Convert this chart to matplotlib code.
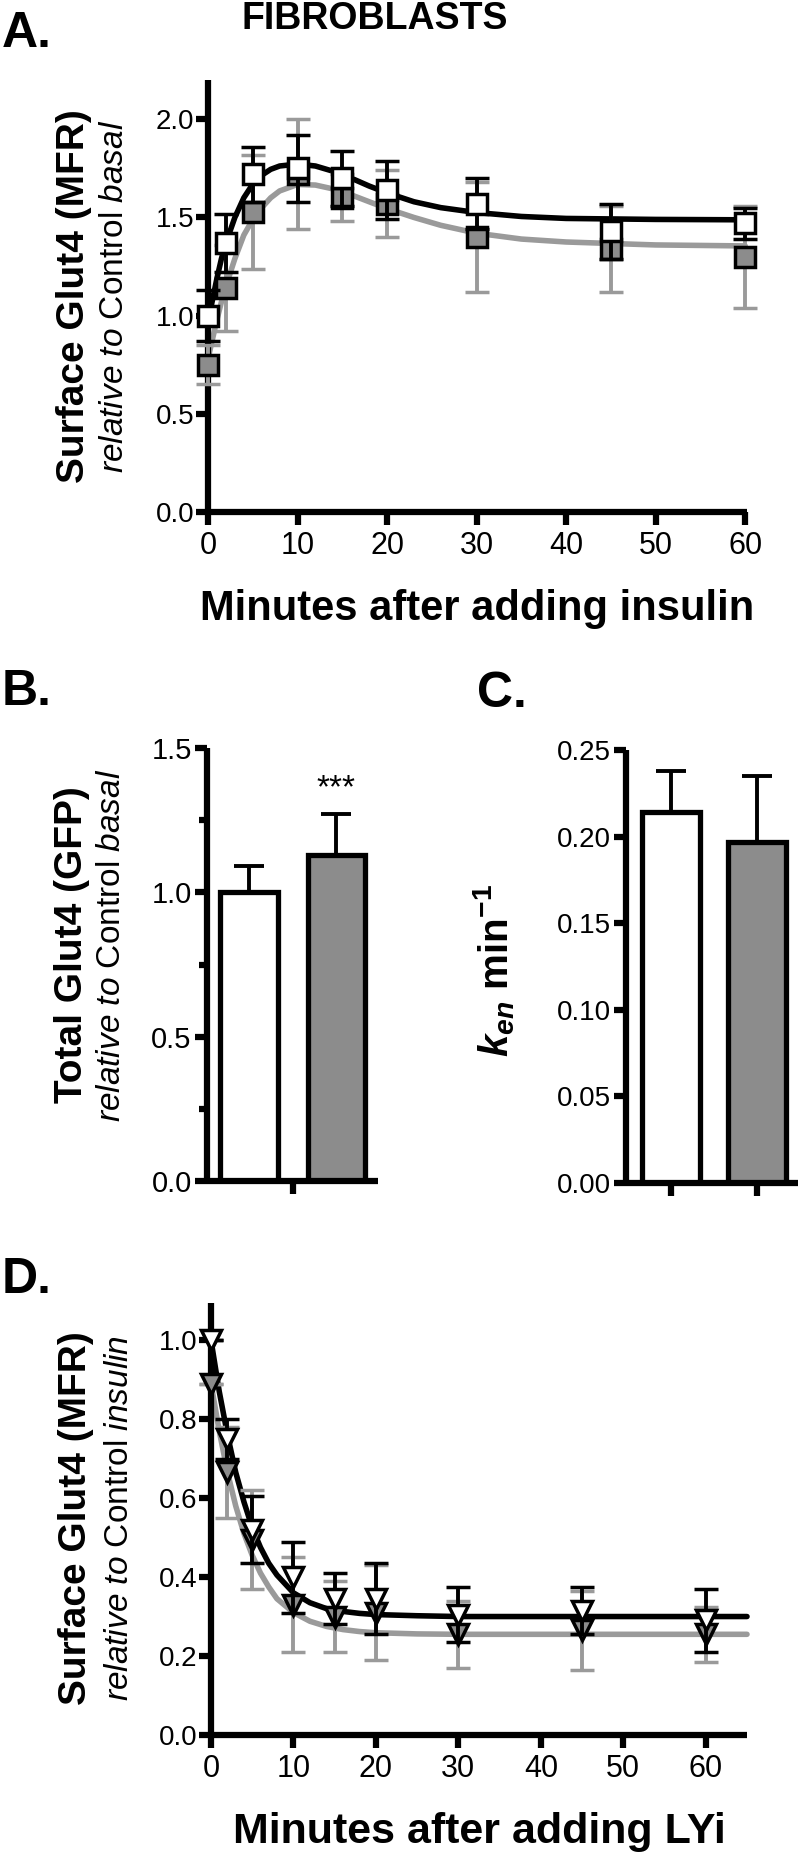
import matplotlib
matplotlib.use("Agg")
import matplotlib.pyplot as plt
import numpy as np

plt.rcParams['font.family'] = ['Liberation Sans', 'DejaVu Sans']
plt.rcParams['mathtext.fontset'] = 'custom'
plt.rcParams['mathtext.rm'] = 'Liberation Sans'
plt.rcParams['mathtext.it'] = 'Liberation Sans:italic'
plt.rcParams['mathtext.bf'] = 'Liberation Sans:bold'
try:
    plt.rcParams['mathtext.bfit'] = 'Liberation Sans:bold:italic'
except KeyError:
    pass

# A: surface Glut4 after insulin
timesA = [0, 2, 5, 10, 15, 20, 30, 45, 60]
ctrlA = [1.00, 1.37, 1.72, 1.75, 1.70, 1.64, 1.57, 1.43, 1.47]
ctrlA_err = [0.13, 0.15, 0.14, 0.17, 0.14, 0.15, 0.13, 0.14, 0.08]
trtA = [0.75, 1.14, 1.53, 1.72, 1.60, 1.57, 1.40, 1.34, 1.30]
trtA_err = [0.10, 0.22, 0.29, 0.28, 0.12, 0.17, 0.28, 0.22, 0.26]
# fitted curves
fitA_t = [0, 0.5, 1, 1.5, 2, 3, 4, 5, 6, 7, 8, 10, 12, 14, 16, 18, 20, 23, 26, 30, 35, 40, 50, 60]
fitA_ctrl = [0.97, 1.08, 1.19, 1.29, 1.37, 1.50, 1.60, 1.67, 1.715, 1.745, 1.762, 1.772, 1.762, 1.735,
             1.70, 1.66, 1.625, 1.58, 1.55, 1.525, 1.505, 1.495, 1.49, 1.488]
fitA_trt = [0.78, 0.88, 0.98, 1.07, 1.15, 1.29, 1.41, 1.49, 1.55, 1.60, 1.635, 1.668, 1.665, 1.645,
            1.615, 1.58, 1.545, 1.50, 1.46, 1.42, 1.39, 1.375, 1.36, 1.355]

# B: total Glut4, C: k_en
totB = [1.00, 1.13]
totB_err = [0.09, 0.14]
kenC = [0.214, 0.197]
kenC_err = [0.024, 0.038]

# D: surface Glut4 after LYi
timesD = [0, 2, 5, 10, 15, 20, 30, 45, 60]
ctrlD = [1.00, 0.75, 0.52, 0.40, 0.345, 0.345, 0.305, 0.315, 0.29]
ctrlD_err = [0.0, 0.05, 0.085, 0.09, 0.065, 0.09, 0.07, 0.06, 0.08]
trtD = [0.89, 0.665, 0.495, 0.33, 0.30, 0.31, 0.255, 0.265, 0.255]
trtD_err = [0.0, 0.115, 0.125, 0.12, 0.09, 0.12, 0.085, 0.10, 0.07]
fitD_t = [0, 1, 2, 3, 4, 5, 6, 7, 8, 10, 12, 14, 16, 18, 20, 25, 30, 40, 65]
fitD_ctrl = [1.0, 0.87, 0.76, 0.665, 0.59, 0.525, 0.475, 0.435, 0.405, 0.36, 0.335, 0.32, 0.313,
             0.308, 0.305, 0.302, 0.30, 0.30, 0.30]
fitD_trt = [0.89, 0.77, 0.665, 0.58, 0.51, 0.455, 0.41, 0.375, 0.345, 0.31, 0.288, 0.275, 0.267,
            0.262, 0.259, 0.256, 0.255, 0.255, 0.255]

GREY = '#8c8c8c'
LGREY = '#9a9a9a'
W, H = 800, 1854

fig = plt.figure(figsize=(W / 100, H / 100), dpi=100)


def box(l, r, t, b):
    return [l / W, 1 - b / H, (r - l) / W, (b - t) / H]


def style(ax, lw=4.5):
    for s in ['top', 'right']:
        ax.spines[s].set_visible(False)
    for s in ['left', 'bottom']:
        ax.spines[s].set_linewidth(lw)
        ax.spines[s].set_capstyle('butt')
    ax.tick_params(width=lw, length=9, direction='out', pad=2)


def ftext(x, y, s, **kw):
    fig.text(x / W, 1 - y / H, s, **kw)


# ---- A ----
axA = fig.add_axes(box(208, 747, 80, 512))
style(axA)
axA.plot(fitA_t, fitA_trt, color=LGREY, lw=4, zorder=2, solid_capstyle='round')
axA.plot(fitA_t, fitA_ctrl, color='black', lw=4, zorder=3, solid_capstyle='round')
axA.errorbar(timesA, trtA, yerr=trtA_err, fmt='s', ms=14.5, mfc=GREY, mec='black', mew=2.5,
             ecolor=LGREY, elinewidth=2.8, capsize=8.5, capthick=2.8, zorder=4)
axA.errorbar(timesA, ctrlA, yerr=ctrlA_err, fmt='s', ms=14.5, mfc='white', mec='black', mew=2.5,
             ecolor='black', elinewidth=2.8, capsize=8.5, capthick=2.8, zorder=5)
axA.set_xlim(0, 60.2)
axA.set_ylim(0, 2.2)
axA.set_xticks(range(0, 61, 10))
axA.set_yticks([0, 0.5, 1.0, 1.5, 2.0])
axA.set_yticklabels(['0.0', '0.5', '1.0', '1.5', '2.0'])
axA.tick_params(axis='y', labelsize=20, pad=1)
axA.tick_params(axis='x', labelsize=22, pad=5)
for c in axA.get_children():
    c.set_clip_on(False)
axA.set_xlabel('Minutes after adding insulin', fontsize=30, fontweight='bold', labelpad=20)

ftext(375, 19, 'FIBROBLASTS', fontsize=27, fontweight='bold', ha='center', va='center')
ftext(2, 34, 'A.', fontsize=36, fontweight='bold', ha='left', va='center')
ftext(74, 296, 'Surface Glut4 (MFR)', fontsize=28, fontweight='bold', rotation=90,
      ha='center', va='center')
ftext(115, 296, r'$\mathit{relative\ to}$ Control $\mathit{basal}$', fontsize=24, rotation=90,
      ha='center', va='center')

# ---- B ----
axB = fig.add_axes(box(207, 378, 748, 1181))
style(axB)
axB.bar([0, 1], totB, width=0.66, color=['white', GREY], edgecolor='black', linewidth=3.8, zorder=2)
axB.errorbar([0, 1], totB, yerr=[[0, 0], totB_err], fmt='none', ecolor='black', elinewidth=2.8,
             capsize=11, capthick=2.8, zorder=1)
axB.text(1, totB[1] + totB_err[1] + 0.035, '***', ha='center', va='bottom', fontsize=24)
axB.set_xlim(-0.48, 1.475)
axB.set_ylim(0, 1.5)
axB.set_yticks([0, 0.5, 1.0, 1.5])
axB.set_yticklabels(['0.0', '0.5', '1.0', '1.5'])
axB.set_yticks([0.25, 0.75, 1.25], minor=True)
axB.tick_params(axis='y', which='minor', width=4.5, length=5.5)
axB.set_xticks([0.5])
axB.set_xticklabels([''])
axB.tick_params(labelsize=21)
ftext(2, 692, 'B.', fontsize=36, fontweight='bold', ha='left', va='center')
ftext(72, 945, 'Total Glut4 (GFP)', fontsize=28, fontweight='bold', rotation=90,
      ha='center', va='center')
ftext(111, 945, r'$\mathit{relative\ to}$ Control $\mathit{basal}$', fontsize=24, rotation=90,
      ha='center', va='center')

# ---- C ----
axC = fig.add_axes(box(626, 798, 750, 1183))
style(axC)
axC.bar([0, 1], kenC, width=0.68, color=['white', GREY], edgecolor='black', linewidth=3.8, zorder=2)
axC.errorbar([0, 1], kenC, yerr=[[0, 0], kenC_err], fmt='none', ecolor='black', elinewidth=2.8,
             capsize=11, capthick=2.8, zorder=1)
axC.set_xlim(-0.53, 1.485)
axC.set_ylim(0, 0.25)
axC.set_yticks([0, 0.05, 0.10, 0.15, 0.20, 0.25])
axC.set_yticklabels(['0.00', '0.05', '0.10', '0.15', '0.20', '0.25'])
axC.set_xticks([0, 1])
axC.set_xticklabels(['', ''])
axC.tick_params(labelsize=20)
ftext(477, 694, 'C.', fontsize=36, fontweight='bold', ha='left', va='center')
ftext(494, 970, r'$\mathbfit{k_{en}}$ $\mathbf{min^{-1}}$', fontsize=29, rotation=90,
      ha='center', va='center')

# ---- D ----
axD = fig.add_axes(box(211, 747, 1303, 1735))
style(axD)
axD.plot(fitD_t, fitD_trt, color=LGREY, lw=4, zorder=2, solid_capstyle='round')
axD.plot(fitD_t, fitD_ctrl, color='black', lw=4, zorder=3, solid_capstyle='round')
axD.errorbar(timesD, trtD, yerr=trtD_err, fmt='v', ms=15, mfc=GREY, mec='black', mew=2.5,
             ecolor=LGREY, elinewidth=2.8, capsize=8.5, capthick=2.8, zorder=4)
axD.errorbar(timesD, ctrlD, yerr=ctrlD_err, fmt='v', ms=15, mfc='white', mec='black', mew=2.5,
             ecolor='black', elinewidth=2.8, capsize=8.5, capthick=2.8, zorder=5)
axD.set_xlim(0, 65)
axD.set_ylim(0, 1.094)
axD.set_xticks(range(0, 61, 10))
axD.set_yticks([0, 0.2, 0.4, 0.6, 0.8, 1.0])
axD.set_yticklabels(['0.0', '0.2', '0.4', '0.6', '0.8', '1.0'])
axD.tick_params(axis='y', labelsize=20, pad=1)
axD.tick_params(axis='x', labelsize=22, pad=5)
for c in axD.get_children():
    c.set_clip_on(False)
axD.set_xlabel('Minutes after adding LYi', fontsize=31, fontweight='bold', labelpad=20)
ftext(2, 1280, 'D.', fontsize=36, fontweight='bold', ha='left', va='center')
ftext(76, 1518, 'Surface Glut4 (MFR)', fontsize=28, fontweight='bold', rotation=90,
      ha='center', va='center')
ftext(119, 1518, r'$\mathit{relative\ to}$ Control $\mathit{insulin}$', fontsize=24, rotation=90,
      ha='center', va='center')

fig.savefig('out.png', dpi=100)
